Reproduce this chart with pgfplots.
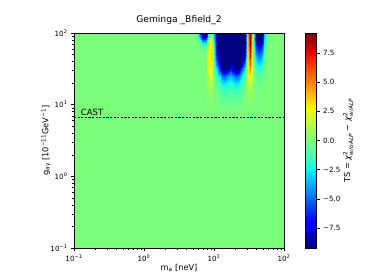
\documentclass[border=0pt]{standalone}
\usepackage{pgfplots}
\pgfplotsset{compat=1.18}
\usepackage{pgfplotstable}
\usepackage{fontspec}
\setmainfont{DejaVu Sans}
\pgfplotsset{colormap={mpljet}{rgb(0pt)=(0,0,0.5); rgb(110pt)=(0,0,1); rgb(125pt)=(0,0,1); rgb(340pt)=(0,0.86,1); rgb(350pt)=(0,0.9,0.968); rgb(375pt)=(0.081,1,0.887); rgb(640pt)=(0.935,1,0.032); rgb(650pt)=(0.968,0.963,0); rgb(660pt)=(1,0.926,0); rgb(890pt)=(1,0.074,0); rgb(910pt)=(0.909,0,0); rgb(1000pt)=(0.5,0,0)}}

% TS grid: m [neV], g [1e-11 GeV^-1], value
\pgfplotstableread[row sep=\\]{
m g v\\
5.248 100 0\\ 5.754 100 -1\\ 6.310 100 -6\\ 6.918 100 -9.2\\ 7.586 100 -9.2\\ 8.318 100 -3\\ 9.120 100 0.5\\
10 100 -4\\ 10.965 100 -9.2\\ 12.023 100 -9.2\\ 13.183 100 -9.2\\ 14.454 100 -9.2\\ 15.849 100 -9.2\\ 17.378 100 -9.2\\
19.055 100 -9.2\\ 20.893 100 -9.2\\ 22.909 100 -9.2\\ 25.119 100 -9.2\\ 27.542 100 -9.2\\ 30.200 100 5\\ 33.113 100 9.2\\
36.308 100 0\\ 39.811 100 -9.2\\ 43.652 100 -9.2\\ 47.863 100 -9.2\\ 52.481 100 -4\\ 57.544 100 -0.5\\ 63.096 100 0\\
5.248 89.125 0\\ 5.754 89.125 -0.5\\ 6.310 89.125 -4\\ 6.918 89.125 -9\\ 7.586 89.125 -8\\ 8.318 89.125 -2\\ 9.120 89.125 1.5\\
10 89.125 -3.5\\ 10.965 89.125 -9.2\\ 12.023 89.125 -9.2\\ 13.183 89.125 -9.2\\ 14.454 89.125 -9.2\\ 15.849 89.125 -9.2\\ 17.378 89.125 -9.2\\
19.055 89.125 -9.2\\ 20.893 89.125 -9.2\\ 22.909 89.125 -9.2\\ 25.119 89.125 -9.2\\ 27.542 89.125 -9.2\\ 30.200 89.125 5\\ 33.113 89.125 9.2\\
36.308 89.125 0\\ 39.811 89.125 -9.2\\ 43.652 89.125 -9.2\\ 47.863 89.125 -9.2\\ 52.481 89.125 -3.5\\ 57.544 89.125 -0.3\\ 63.096 89.125 0\\
5.248 79.433 0\\ 5.754 79.433 0\\ 6.310 79.433 -2\\ 6.918 79.433 -5\\ 7.586 79.433 -4.5\\ 8.318 79.433 -0.5\\ 9.120 79.433 2.5\\
10 79.433 -3\\ 10.965 79.433 -9.2\\ 12.023 79.433 -9.2\\ 13.183 79.433 -9.2\\ 14.454 79.433 -9.2\\ 15.849 79.433 -9.2\\ 17.378 79.433 -9.2\\
19.055 79.433 -9.2\\ 20.893 79.433 -9.2\\ 22.909 79.433 -9.2\\ 25.119 79.433 -9.2\\ 27.542 79.433 -9.2\\ 30.200 79.433 4.5\\ 33.113 79.433 9.2\\
36.308 79.433 0\\ 39.811 79.433 -9\\ 43.652 79.433 -9.2\\ 47.863 79.433 -9\\ 52.481 79.433 -3\\ 57.544 79.433 -0.2\\ 63.096 79.433 0\\
5.248 70.795 0\\ 5.754 70.795 0\\ 6.310 70.795 -0.8\\ 6.918 70.795 -2\\ 7.586 70.795 -2\\ 8.318 70.795 1\\ 9.120 70.795 3\\
10 70.795 -2.5\\ 10.965 70.795 -9.2\\ 12.023 70.795 -9.2\\ 13.183 70.795 -9.2\\ 14.454 70.795 -9.2\\ 15.849 70.795 -9.2\\ 17.378 70.795 -9.2\\
19.055 70.795 -9.2\\ 20.893 70.795 -9.2\\ 22.909 70.795 -9.2\\ 25.119 70.795 -9.2\\ 27.542 70.795 -9.2\\ 30.200 70.795 4.5\\ 33.113 70.795 9.2\\
36.308 70.795 0\\ 39.811 70.795 -7.5\\ 43.652 70.795 -8.5\\ 47.863 70.795 -7.5\\ 52.481 70.795 -2.5\\ 57.544 70.795 -0.2\\ 63.096 70.795 0\\
5.248 63.096 0\\ 5.754 63.096 0\\ 6.310 63.096 -0.3\\ 6.918 63.096 -0.7\\ 7.586 63.096 -0.7\\ 8.318 63.096 1.8\\ 9.120 63.096 3.2\\
10 63.096 -2\\ 10.965 63.096 -9.2\\ 12.023 63.096 -9.2\\ 13.183 63.096 -9.2\\ 14.454 63.096 -9.2\\ 15.849 63.096 -9.2\\ 17.378 63.096 -9.2\\
19.055 63.096 -9.2\\ 20.893 63.096 -9.2\\ 22.909 63.096 -9.2\\ 25.119 63.096 -9.2\\ 27.542 63.096 -9\\ 30.200 63.096 4\\ 33.113 63.096 8.5\\
36.308 63.096 0\\ 39.811 63.096 -6\\ 43.652 63.096 -7\\ 47.863 63.096 -6\\ 52.481 63.096 -2\\ 57.544 63.096 -0.1\\ 63.096 63.096 0\\
5.248 50.119 0\\ 5.754 50.119 0\\ 6.310 50.119 0\\ 6.918 50.119 -0.2\\ 7.586 50.119 -0.2\\ 8.318 50.119 2.2\\ 9.120 50.119 3.5\\
10 50.119 -1.5\\ 10.965 50.119 -8\\ 12.023 50.119 -9.2\\ 13.183 50.119 -9.2\\ 14.454 50.119 -9.2\\ 15.849 50.119 -9.2\\ 17.378 50.119 -9.2\\
19.055 50.119 -9.2\\ 20.893 50.119 -9.2\\ 22.909 50.119 -9.2\\ 25.119 50.119 -9.2\\ 27.542 50.119 -8\\ 30.200 50.119 3.5\\ 33.113 50.119 7.5\\
36.308 50.119 0\\ 39.811 50.119 -4\\ 43.652 50.119 -5\\ 47.863 50.119 -4\\ 52.481 50.119 -1.5\\ 57.544 50.119 0\\ 63.096 50.119 0\\
5.248 39.811 0\\ 5.754 39.811 0\\ 6.310 39.811 0\\ 6.918 39.811 0\\ 7.586 39.811 0\\ 8.318 39.811 2.3\\ 9.120 39.811 3.3\\
10 39.811 -1\\ 10.965 39.811 -6\\ 12.023 39.811 -9.2\\ 13.183 39.811 -9.2\\ 14.454 39.811 -9.2\\ 15.849 39.811 -9.2\\ 17.378 39.811 -9.2\\
19.055 39.811 -9.2\\ 20.893 39.811 -9.2\\ 22.909 39.811 -9.2\\ 25.119 39.811 -9\\ 27.542 39.811 -5\\ 30.200 39.811 3\\ 33.113 39.811 6\\
36.308 39.811 0.5\\ 39.811 39.811 -2.5\\ 43.652 39.811 -3.5\\ 47.863 39.811 -2.5\\ 52.481 39.811 -1\\ 57.544 39.811 0\\ 63.096 39.811 0\\
5.248 31.623 0\\ 5.754 31.623 0\\ 6.310 31.623 0\\ 6.918 31.623 0\\ 7.586 31.623 0\\ 8.318 31.623 2\\ 9.120 31.623 3\\
10 31.623 -0.8\\ 10.965 31.623 -3\\ 12.023 31.623 -7\\ 13.183 31.623 -9.2\\ 14.454 31.623 -9.2\\ 15.849 31.623 -8.5\\ 17.378 31.623 -6.5\\
19.055 31.623 -9\\ 20.893 31.623 -9.2\\ 22.909 31.623 -8.5\\ 25.119 31.623 -5\\ 27.542 31.623 -2.5\\ 30.200 31.623 2.5\\ 33.113 31.623 4.8\\
36.308 31.623 0.5\\ 39.811 31.623 -1.3\\ 43.652 31.623 -2\\ 47.863 31.623 -1.3\\ 52.481 31.623 -0.5\\ 57.544 31.623 0\\ 63.096 31.623 0\\
5.248 25.119 0\\ 5.754 25.119 0\\ 6.310 25.119 0\\ 6.918 25.119 0\\ 7.586 25.119 0\\ 8.318 25.119 1.5\\ 9.120 25.119 2.3\\
10 25.119 -0.5\\ 10.965 25.119 -1.5\\ 12.023 25.119 -3\\ 13.183 25.119 -5\\ 14.454 25.119 -5\\ 15.849 25.119 -4\\ 17.378 25.119 -3.5\\
19.055 25.119 -4.5\\ 20.893 25.119 -5.5\\ 22.909 25.119 -4.5\\ 25.119 25.119 -2.5\\ 27.542 25.119 -1.2\\ 30.200 25.119 2\\ 33.113 25.119 3.2\\
36.308 25.119 0.5\\ 39.811 25.119 -0.6\\ 43.652 25.119 -1\\ 47.863 25.119 -0.6\\ 52.481 25.119 -0.2\\ 57.544 25.119 0\\ 63.096 25.119 0\\
5.248 19.953 0\\ 5.754 19.953 0\\ 6.310 19.953 0\\ 6.918 19.953 0\\ 7.586 19.953 0\\ 8.318 19.953 0.9\\ 9.120 19.953 1.4\\
10 19.953 -0.3\\ 10.965 19.953 -0.8\\ 12.023 19.953 -1.5\\ 13.183 19.953 -2.8\\ 14.454 19.953 -2.8\\ 15.849 19.953 -2.2\\ 17.378 19.953 -2\\
19.055 19.953 -2.6\\ 20.893 19.953 -3\\ 22.909 19.953 -2.5\\ 25.119 19.953 -1.3\\ 27.542 19.953 -0.6\\ 30.200 19.953 1.2\\ 33.113 19.953 2\\
36.308 19.953 0.3\\ 39.811 19.953 -0.3\\ 43.652 19.953 -0.5\\ 47.863 19.953 -0.3\\ 52.481 19.953 0\\ 57.544 19.953 0\\ 63.096 19.953 0\\
5.248 15.849 0\\ 5.754 15.849 0\\ 6.310 15.849 0\\ 6.918 15.849 0\\ 7.586 15.849 0\\ 8.318 15.849 0.5\\ 9.120 15.849 0.8\\
10 15.849 -0.1\\ 10.965 15.849 -0.4\\ 12.023 15.849 -0.8\\ 13.183 15.849 -1.5\\ 14.454 15.849 -1.5\\ 15.849 15.849 -1.2\\ 17.378 15.849 -1.1\\
19.055 15.849 -1.4\\ 20.893 15.849 -1.6\\ 22.909 15.849 -1.3\\ 25.119 15.849 -0.7\\ 27.542 15.849 -0.3\\ 30.200 15.849 0.7\\ 33.113 15.849 1.1\\
36.308 15.849 0.2\\ 39.811 15.849 -0.2\\ 43.652 15.849 -0.2\\ 47.863 15.849 -0.1\\ 52.481 15.849 0\\ 57.544 15.849 0\\ 63.096 15.849 0\\
5.248 12.589 0\\ 5.754 12.589 0\\ 6.310 12.589 0\\ 6.918 12.589 0\\ 7.586 12.589 0\\ 8.318 12.589 0.3\\ 9.120 12.589 0.4\\
10 12.589 0\\ 10.965 12.589 -0.2\\ 12.023 12.589 -0.4\\ 13.183 12.589 -0.8\\ 14.454 12.589 -0.8\\ 15.849 12.589 -0.6\\ 17.378 12.589 -0.6\\
19.055 12.589 -0.7\\ 20.893 12.589 -0.8\\ 22.909 12.589 -0.7\\ 25.119 12.589 -0.4\\ 27.542 12.589 -0.2\\ 30.200 12.589 0.4\\ 33.113 12.589 0.6\\
36.308 12.589 0.1\\ 39.811 12.589 -0.1\\ 43.652 12.589 -0.1\\ 47.863 12.589 0\\ 52.481 12.589 0\\ 57.544 12.589 0\\ 63.096 12.589 0\\
5.248 10 0\\ 5.754 10 0\\ 6.310 10 0\\ 6.918 10 0\\ 7.586 10 0\\ 8.318 10 0.1\\ 9.120 10 0.2\\
10 10 0\\ 10.965 10 0\\ 12.023 10 -0.2\\ 13.183 10 -0.4\\ 14.454 10 -0.4\\ 15.849 10 -0.3\\ 17.378 10 -0.3\\
19.055 10 -0.35\\ 20.893 10 -0.4\\ 22.909 10 -0.3\\ 25.119 10 -0.2\\ 27.542 10 0\\ 30.200 10 0.2\\ 33.113 10 0.3\\
36.308 10 0\\ 39.811 10 0\\ 43.652 10 0\\ 47.863 10 0\\ 52.481 10 0\\ 57.544 10 0\\ 63.096 10 0\\
5.248 7.943 0\\ 5.754 7.943 0\\ 6.310 7.943 0\\ 6.918 7.943 0\\ 7.586 7.943 0\\ 8.318 7.943 0\\ 9.120 7.943 0\\
10 7.943 0\\ 10.965 7.943 0\\ 12.023 7.943 0\\ 13.183 7.943 0\\ 14.454 7.943 0\\ 15.849 7.943 0\\ 17.378 7.943 0\\
19.055 7.943 0\\ 20.893 7.943 0\\ 22.909 7.943 0\\ 25.119 7.943 0\\ 27.542 7.943 0\\ 30.200 7.943 0\\ 33.113 7.943 0\\
36.308 7.943 0\\ 39.811 7.943 0\\ 43.652 7.943 0\\ 47.863 7.943 0\\ 52.481 7.943 0\\ 57.544 7.943 0\\ 63.096 7.943 0\\
}\tsgrid

\newcommand{\lblfont}{\fontsize{8.2}{9.8}\selectfont}
\newcommand{\tickfont}{\fontsize{7.2}{8.6}\selectfont}
\newcommand{\scr}{\fontsize{5.8}{6.6}\selectfont}

\begin{document}
\begin{tikzpicture}
\path[use as bounding box] (0,0) rectangle (374bp,280bp);
\begin{axis}[
  at={(74bp,32bp)}, anchor=south west,
  scale only axis, width=210bp, height=215bp,
  xmode=log, ymode=log,
  xmin=0.1, xmax=100, ymin=0.1, ymax=100,
  colormap name=mpljet,
  point meta min=-9.2, point meta max=9.2,
  axis on top,
  axis line style={black, line width=0.6bp},
  tick align=outside, tick pos=left,
  major tick length=3bp, minor tick length=1.8bp,
  every tick/.style={black, line width=0.5bp},
  xtick={0.1,1,10,100}, ytick={0.1,1,10,100},
  xticklabels={10\textsuperscript{−1},10\textsuperscript{0},10\textsuperscript{1},10\textsuperscript{2}},
  yticklabels={10\textsuperscript{−1},10\textsuperscript{0},10\textsuperscript{1},10\textsuperscript{2}},
  ticklabel style={font=\tickfont},
  title={Geminga \_Bfield\_2},
  title style={at={(axis description cs:0.5,1.03)}, anchor=center, font=\fontsize{9.2}{11}\selectfont},
  xlabel={m\textsubscript{a} [neV]},
  xlabel style={at={(axis description cs:0.5,-0.095)}, anchor=center, font=\lblfont},
  ylabel={g\textsubscript{aγ} [10\textsuperscript{−11}GeV\textsuperscript{−1}]},
  ylabel style={at={(axis description cs:-0.133,0.5)}, anchor=center, font=\lblfont},
  colorbar,
  colorbar style={
    at={(parent axis.north east)}, anchor=north west, xshift=13bp,
    scale only axis, width=11bp, height=215bp,
    ytick={-7.5,-5,-2.5,0,2.5,5,7.5},
    yticklabels={−7.5,−5.0,−2.5,0.0,2.5,5.0,7.5},
    yticklabel style={font=\tickfont},
    ytick pos=right, yticklabel pos=right,
    tick align=outside, major tick length=3bp,
    every tick/.style={black, line width=0.5bp},
    axis line style={black, line width=0.5bp},
    ylabel={TS = \textit{χ}$^{\mbox{\scr 2}}_{\mbox{\scr\itshape w/oALP}}$ − \textit{χ}$^{\mbox{\scr 2}}_{\mbox{\scr\itshape w/ALP}}$},
    ylabel style={at={(axis description cs:3.9,0.5)}, anchor=center, font=\lblfont},
  },
]
\addplot[surf, shader=flat, mesh/cols=2, point meta=explicit] coordinates {(0.1,0.1) [0] (100,0.1) [0] (0.1,100) [0] (100,100) [0]};
\addplot[surf, shader=interp, mesh/cols=28, point meta=explicit] table[x=m, y=g, meta=v] {\tsgrid};
\addplot[black, line width=0.5bp, dash pattern=on 2.2bp off 1.4bp] coordinates {(0.1,6.6) (100,6.6)};
\node[anchor=south west, inner sep=0pt, font=\fontsize{8.6}{10}\selectfont] at (axis cs:0.1246,6.95) {CAST};
\end{axis}
\end{tikzpicture}
\end{document}
